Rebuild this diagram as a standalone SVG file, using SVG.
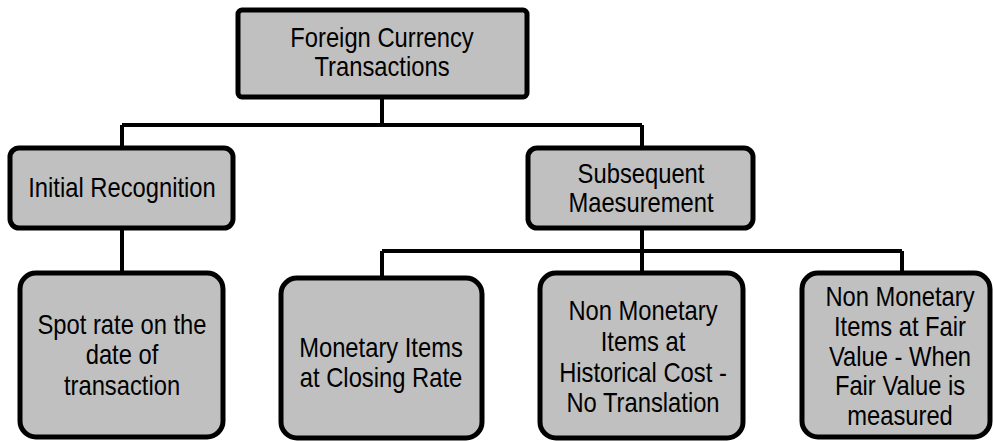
<svg xmlns="http://www.w3.org/2000/svg" width="993" height="441" viewBox="0 0 993 441">
  <style>
    .box { fill: #c0c0c0; stroke: #000; stroke-width: 5; }
    .link { fill: none; stroke: #000; stroke-width: 4; stroke-linejoin: miter; }
    .lbl { font-family: "Liberation Sans", Arial, sans-serif; font-size: 27px; fill: #000; text-anchor: middle; }
  </style>
  <rect width="993" height="441" fill="#fff"/>

  <!-- connectors -->
  <g id="connectors">
    <path class="link" d="M382,97 V125 M122,125 H642 M122,125 V148 M642,125 V148"/>
    <path class="link" d="M122,228 V273"/>
    <path class="link" d="M642,228 V251 M382,251 H902 M382,251 V278 M642,251 V273 M902,251 V273"/>
  </g>

  <g id="root">
    <rect class="box" x="238" y="10" width="289" height="87" rx="4"/>
    <g transform="translate(382,0) scale(0.88,1)">
      <text class="lbl" x="0" y="47">Foreign Currency</text>
      <text class="lbl" x="0" y="76">Transactions</text>
    </g>
  </g>

  <g id="initial">
    <rect class="box" x="10" y="148" width="223" height="80" rx="9"/>
    <g transform="translate(122,0) scale(0.88,1)">
      <text class="lbl" x="0" y="197">Initial Recognition</text>
    </g>
  </g>

  <g id="subsequent">
    <rect class="box" x="528" y="148" width="225" height="80" rx="9"/>
    <g transform="translate(641,0) scale(0.88,1)">
      <text class="lbl" x="0" y="183">Subsequent</text>
      <text class="lbl" x="0" y="212">Maesurement</text>
    </g>
  </g>

  <g id="spot-rate">
    <rect class="box" x="20" y="273" width="203" height="164" rx="16"/>
    <g transform="translate(122,0) scale(0.88,1)">
      <text class="lbl" x="0" y="334">Spot rate on the</text>
      <text class="lbl" x="0" y="364">date of</text>
      <text class="lbl" x="0" y="395">transaction</text>
    </g>
  </g>

  <g id="monetary">
    <rect class="box" x="281" y="278" width="201" height="160" rx="16"/>
    <g transform="translate(381,0) scale(0.88,1)">
      <text class="lbl" x="0" y="357">Monetary Items</text>
      <text class="lbl" x="0" y="387">at Closing Rate</text>
    </g>
  </g>

  <g id="non-monetary-historical">
    <rect class="box" x="540" y="273" width="203" height="165" rx="16"/>
    <g transform="translate(643,0) scale(0.88,1)">
      <text class="lbl" x="0" y="320">Non Monetary</text>
      <text class="lbl" x="0" y="351">Items at</text>
      <text class="lbl" x="0" y="382">Historical Cost -</text>
      <text class="lbl" x="0" y="412">No Translation</text>
    </g>
  </g>

  <g id="non-monetary-fair-value">
    <rect class="box" x="802" y="273" width="188" height="164" rx="16"/>
    <g transform="translate(900,0) scale(0.88,1)">
      <text class="lbl" x="0" y="306">Non Monetary</text>
      <text class="lbl" x="0" y="336">Items at Fair</text>
      <text class="lbl" x="0" y="366">Value - When</text>
      <text class="lbl" x="0" y="395">Fair Value is</text>
      <text class="lbl" x="0" y="425">measured</text>
    </g>
  </g>
</svg>
